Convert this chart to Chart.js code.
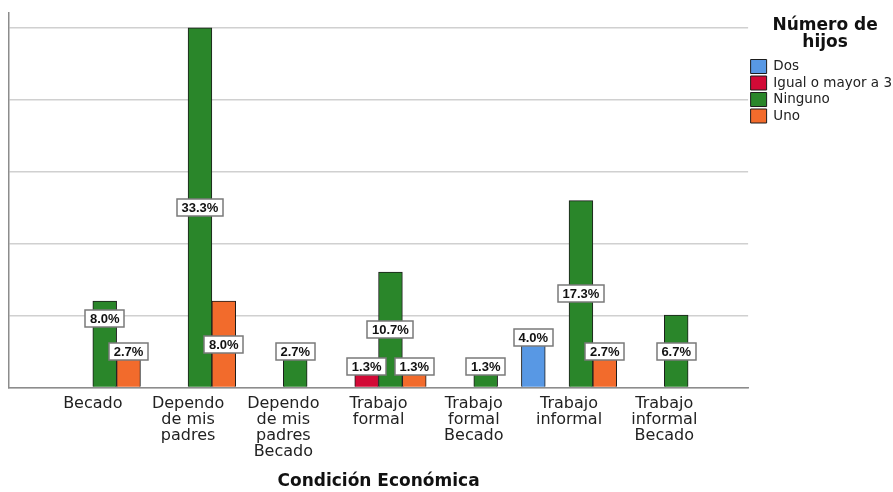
<!DOCTYPE html>
<html>
<head>
<meta charset="utf-8">
<script src="https://cdn.jsdelivr.net/npm/chart.js@4.4.1/dist/chart.umd.min.js"></script>
<style>
html, body { margin: 0; padding: 0; background: #fff; }
#wrap { width: 893px; height: 492px; overflow: hidden; }
</style>
</head>
<body>
<div id="wrap"><canvas id="chart" width="893" height="492"></canvas></div>
<script>
const categorias = ['Becado', 'Dependo de mis padres', 'Dependo de mis padres Becado', 'Trabajo formal',
    'Trabajo formal Becado', 'Trabajo informal', 'Trabajo informal Becado'];

const serieDos = [null, null, null, null, null, 4.0, null];
const serieIgual3 = [null, null, null, 1.3, null, null, null];
const serieNinguno = [8.0, 33.3, 2.7, 10.7, 1.3, 17.3, 6.7];
const serieUno = [2.7, 8.0, null, 1.3, null, 2.7, null];

// gridlines every 5 cases out of 75
const yTicks = [0, 1, 2, 3, 4, 5].map(k => k * 100 / 15);
const yMax = 26 * 100 / 75;

function partir(texto, maxChars) {
    const lineas = [];
    let actual = '';
    texto.split(' ').forEach(p => {
        if (actual && (actual + ' ' + p).length > maxChars) {
            lineas.push(actual);
            actual = p;
        } else {
            actual = actual ? actual + ' ' + p : p;
        }
    });
    if (actual) lineas.push(actual);
    return lineas;
}

const etiquetasPlugin = {
    id: 'etiquetas',
    afterDatasetsDraw(chart) {
        const ctx = chart.ctx;
        ctx.save();
        ctx.font = 'bold 13px "Liberation Sans", Arial, sans-serif';
        const cajas = [];
        chart.data.datasets.forEach((ds, di) => {
            const meta = chart.getDatasetMeta(di);
            meta.data.forEach((bar, i) => {
                const v = ds.data[i];
                if (v == null) return;
                const texto = v.toFixed(1) + '%';
                const w = Math.round(ctx.measureText(texto).width + 9);
                const h = 17;
                const alto = bar.base - bar.y;
                const cy = alto > 55 ? (bar.y + bar.base) / 2 : bar.y - 7;
                cajas.push({ i, x: bar.x, cy, w, h, alto, texto });
            });
        });
        // labels that collide inside one category: push the taller bar's label up
        cajas.forEach(a => {
            cajas.forEach(b => {
                if (a === b || a.i !== b.i || a.alto <= b.alto) return;
                if (Math.abs(a.x - b.x) < (a.w + b.w) / 2 && Math.abs(a.cy - b.cy) < (a.h + b.h) / 2) {
                    a.cy = b.cy - 2 * a.h + 1;
                }
            });
        });
        ctx.textAlign = 'center';
        ctx.textBaseline = 'middle';
        cajas.forEach(c => {
            const left = Math.round(c.x - c.w / 2);
            const top = Math.round(c.cy - c.h / 2);
            ctx.fillStyle = '#ffffff';
            ctx.fillRect(left, top, c.w, c.h);
            ctx.strokeStyle = '#7a7a7a';
            ctx.lineWidth = 1.5;
            ctx.strokeRect(left, top, c.w, c.h);
            ctx.fillStyle = '#111';
            ctx.fillText(c.texto, c.x, c.cy + 1);
        });
        ctx.restore();
    }
};

const ctx = document.getElementById('chart').getContext('2d');
new Chart(ctx, {
    type: 'bar',
    data: {
        labels: categorias.map((_, i) => i),
        datasets: [
            { label: 'Dos', data: serieDos, backgroundColor: '#5898e4' },
            { label: 'Igual o mayor a 3', data: serieIgual3, backgroundColor: '#d20a36' },
            { label: 'Ninguno', data: serieNinguno, backgroundColor: '#2a862a' },
            { label: 'Uno', data: serieUno, backgroundColor: '#f26b2c' },
        ],
    },
    options: {
        responsive: false,
        animation: false,
        layout: { padding: { left: 9, top: 13, right: -9, bottom: 0 } },
        datasets: {
            bar: {
                categoryPercentage: 1,
                barPercentage: 1,
                borderWidth: 1,
                borderColor: '#1c1c1c',
            },
        },
        scales: {
            x: {
                type: 'linear',
                offset: false,
                min: -0.88,
                max: 6.88,
                grid: { display: false, drawTicks: false },
                border: { display: true, color: '#8c8c8c', width: 1.5 },
                afterBuildTicks: scale => {
                    scale.ticks = categorias.map((_, i) => ({ value: i }));
                },
                ticks: {
                    padding: 8,
                    autoSkip: false,
                    maxRotation: 0,
                    color: '#222',
                    font: { family: 'DejaVu Sans', size: 16, lineHeight: 1.0 },
                    callback: v => partir(categorias[v], 7),
                },
                title: {
                    display: true,
                    text: 'Condición Económica',
                    color: '#111',
                    font: { family: 'DejaVu Sans', size: 17, weight: 'bold', lineHeight: 1.2 },
                    padding: { top: 4, bottom: 0 },
                },
            },
            y: {
                min: 0,
                max: yMax,
                afterBuildTicks: scale => {
                    scale.ticks = yTicks.map(v => ({ value: v }));
                },
                ticks: { display: false },
                grid: { color: '#d0d0d0', lineWidth: 1.5, drawTicks: false },
                border: { color: '#8c8c8c', width: 1.5 },
            },
        },
        plugins: {
            tooltip: { enabled: false },
            legend: {
                position: 'right',
                align: 'start',
                title: {
                    display: true,
                    text: ['Número de', 'hijos'],
                    color: '#111',
                    font: { family: 'DejaVu Sans', size: 17, weight: 'bold', lineHeight: 1.0 },
                    padding: { top: 4, bottom: 23 },
                },
                labels: {
                    boxWidth: 16,
                    boxHeight: 14,
                    padding: 2.5,
                    color: '#222',
                    font: { family: 'DejaVu Sans', size: 13.5 },
                },
            },
        },
    },
    plugins: [etiquetasPlugin],
});
</script>
</body>
</html>
